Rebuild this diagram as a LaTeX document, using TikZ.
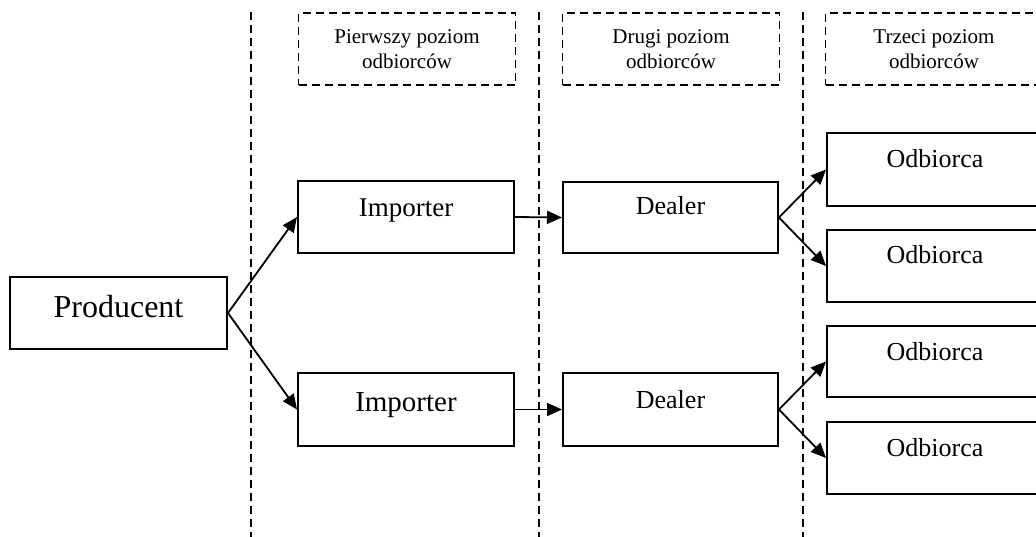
\documentclass[tikz,border=0pt]{standalone}
\usepackage{fontspec}
\setmainfont{Liberation Serif}
\usetikzlibrary{arrows.meta}

\tikzset{
	box/.style={draw, line width=2pt, minimum width=216pt, minimum height=72pt, inner sep=0pt},
	levelbox/.style={draw, line width=1.8pt, dash pattern=on 8pt off 5pt, minimum width=217pt, minimum height=72pt, inner sep=0pt, align=center, font=\fontsize{21}{25}\selectfont},
	flow/.style={-{Triangle[length=15pt,width=13pt]}, line width=1.8pt},
}

\begin{document}
\begin{tikzpicture}[x=1pt,y=-1pt]
	\useasboundingbox (0,0) rectangle (1036,537);
	\foreach \x in {251,539,803}
		\draw[line width=1.8pt, dash pattern=on 8pt off 5pt] (\x,12) -- (\x,537);
	\node[levelbox] (lev1) at (407,49) {Pierwszy poziom\\odbiorców};
	\node[levelbox] (lev2) at (671,49) {Drugi poziom\\odbiorców};
	\node[levelbox] (lev3) at (934,49) {Trzeci poziom\\odbiorców};
	\node[box, minimum width=217pt] (prod) at (118.5,313) {}; \node[anchor=base, font=\fontsize{32}{36}\selectfont] (prodtxt) at (118.5,317) {Producent};
	\node[box] (imp1) at (406,217) {}; \node[anchor=base, font=\fontsize{27}{30}\selectfont] (imp1txt) at (406,217) {Importer};
	\node[box, minimum height=73pt] (imp2) at (406,409.5) {}; \node[anchor=base, font=\fontsize{29}{32}\selectfont] (imp2txt) at (406,411) {Importer};
	\node[box, minimum width=215pt, minimum height=71pt] (dea1) at (670.5,217.5) {}; \node[anchor=base, font=\fontsize{26}{30}\selectfont] (dea1txt) at (670.5,215) {Dealer};
	\node[box, minimum width=215pt, minimum height=73pt] (dea2) at (670.5,409.5) {}; \node[anchor=base, font=\fontsize{26}{30}\selectfont] (dea2txt) at (670.5,408) {Dealer};
	\node[box, minimum height=73pt] (odb1) at (935,169.5) {}; \node[anchor=base, font=\fontsize{26}{30}\selectfont] (odb1txt) at (935,168) {Odbiorca};
	\node[box] (odb2) at (935,266) {}; \node[anchor=base, font=\fontsize{26}{30}\selectfont] (odb2txt) at (935,264) {Odbiorca};
	\node[box, minimum height=71pt] (odb3) at (935,361.5) {}; \node[anchor=base, font=\fontsize{26}{30}\selectfont] (odb3txt) at (935,360) {Odbiorca};
	\node[box] (odb4) at (935,458) {}; \node[anchor=base, font=\fontsize{26}{30}\selectfont] (odb4txt) at (935,456) {Odbiorca};
	\draw[flow] (prod.east) -- (imp1.west);
	\draw[flow] (prod.east) -- (imp2.west);
	\draw[flow] (imp1.east) -- (dea1.west);
	\draw[flow] (imp2.east) -- (dea2.west);
	\draw[flow] (dea1.east) -- (odb1.west);
	\draw[flow] (dea1.east) -- (odb2.west);
	\draw[flow] (dea2.east) -- (odb3.west);
	\draw[flow] (dea2.east) -- (odb4.west);
\end{tikzpicture}
\end{document}
